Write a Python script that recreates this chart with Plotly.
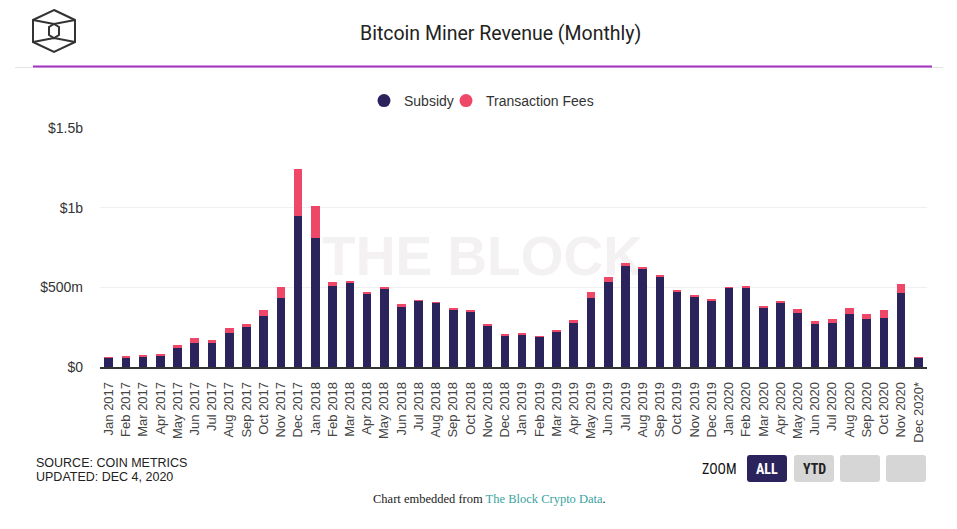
import plotly.graph_objects as go

# ---------------- data (values in millions of USD) ----------------
months = [
    "Jan 2017", "Feb 2017", "Mar 2017", "Apr 2017", "May 2017", "Jun 2017",
    "Jul 2017", "Aug 2017", "Sep 2017", "Oct 2017", "Nov 2017", "Dec 2017",
    "Jan 2018", "Feb 2018", "Mar 2018", "Apr 2018", "May 2018", "Jun 2018",
    "Jul 2018", "Aug 2018", "Sep 2018", "Oct 2018", "Nov 2018", "Dec 2018",
    "Jan 2019", "Feb 2019", "Mar 2019", "Apr 2019", "May 2019", "Jun 2019",
    "Jul 2019", "Aug 2019", "Sep 2019", "Oct 2019", "Nov 2019", "Dec 2019",
    "Jan 2020", "Feb 2020", "Mar 2020", "Apr 2020", "May 2020", "Jun 2020",
    "Jul 2020", "Aug 2020", "Sep 2020", "Oct 2020", "Nov 2020", "Dec 2020*",
]
subsidy_m = [
    58, 57, 67, 73, 121, 150, 150, 215, 250, 319, 432, 947,
    808, 509, 528, 459, 495, 382, 418, 403, 361, 346, 259, 198,
    205, 192, 221, 278, 432, 534, 634, 620, 566, 472, 440, 420,
    497, 497, 371, 405, 338, 267, 276, 330, 299, 309, 465, 58,
]
fees_m = [
    2, 10, 8, 8, 15, 34, 19, 31, 19, 38, 73, 293,
    204, 27, 8, 6, 8, 11, 2, 2, 8, 11, 10, 9,
    8, 2, 11, 18, 36, 34, 19, 10, 10, 8, 9, 2,
    2, 6, 9, 8, 25, 19, 27, 39, 33, 48, 57, 1,
]
y_tick_vals_m = [0, 500, 1000, 1500]
y_tick_text = ["$0", "$500m", "$1b", "$1.5b"]

title_text = "Bitcoin Miner Revenue (Monthly)"
source_lines = ["SOURCE: COIN METRICS", "UPDATED: DEC 4, 2020"]

# ---------------- styling ----------------
W, H = 957, 529
L, R, T, B = 100, 30, 128, 162
NAVY = "#2a235c"
PINK = "#ef4767"
TXT = "#333333"


def X(px):
    return (px - L) / (W - L - R)


def Y(py):
    return (H - B - py) / (H - T - B)


def pts_path(points, close=True):
    s = "M " + " L ".join(f"{X(a):.5f},{Y(b):.5f}" for a, b in points)
    return s + (" Z" if close else "")


def rounded_rect(x0, y0, x1, y1, r):
    p = [
        f"M {X(x0 + r):.5f},{Y(y0):.5f}",
        f"L {X(x1 - r):.5f},{Y(y0):.5f}",
        f"Q {X(x1):.5f},{Y(y0):.5f} {X(x1):.5f},{Y(y0 + r):.5f}",
        f"L {X(x1):.5f},{Y(y1 - r):.5f}",
        f"Q {X(x1):.5f},{Y(y1):.5f} {X(x1 - r):.5f},{Y(y1):.5f}",
        f"L {X(x0 + r):.5f},{Y(y1):.5f}",
        f"Q {X(x0):.5f},{Y(y1):.5f} {X(x0):.5f},{Y(y1 - r):.5f}",
        f"L {X(x0):.5f},{Y(y0 + r):.5f}",
        f"Q {X(x0):.5f},{Y(y0):.5f} {X(x0 + r):.5f},{Y(y0):.5f} Z",
    ]
    return " ".join(p)


fig = go.Figure()
fig.add_trace(go.Bar(x=months, y=[v * 1e6 for v in subsidy_m], name="Subsidy",
                     marker=dict(color=NAVY, line=dict(width=0)), showlegend=False))
fig.add_trace(go.Bar(x=months, y=[v * 1e6 for v in fees_m], name="Transaction Fees",
                     marker=dict(color=PINK, line=dict(width=0)), showlegend=False))
# legend entries with round markers (two legends for exact spacing)
fig.add_trace(go.Scatter(x=[None], y=[None], mode="markers", name="Subsidy", legend="legend",
                         marker=dict(color=NAVY, size=13, symbol="circle")))
fig.add_trace(go.Scatter(x=[None], y=[None], mode="markers", name="Transaction Fees", legend="legend2",
                         marker=dict(color=PINK, size=13, symbol="circle")))

shapes = []
# watermark (below bars)
shapes.append(dict(type="rect", xref="paper", yref="paper", layer="below",
                   x0=X(300), x1=X(665), y0=Y(280), y1=Y(222),
                   line=dict(width=0), fillcolor="rgba(0,0,0,0)",
                   label=dict(text="THE BLOCK", textposition="middle center",
                              font=dict(family="Liberation Sans, Arial, sans-serif",
                                        size=55, color="#f3f1f2", weight="bold"))))
# header lines
shapes.append(dict(type="line", xref="paper", yref="paper",
                   x0=X(15), x1=X(943), y0=Y(67.5), y1=Y(67.5),
                   line=dict(color="#e3e3e3", width=1)))
shapes.append(dict(type="line", xref="paper", yref="paper",
                   x0=X(33), x1=X(932), y0=Y(66.5), y1=Y(66.5),
                   line=dict(color="#a433c4", width=2)))
# logo
cx, cy = 54, 31
outer = [(cx, 10), (cx + 21, 20), (cx + 21, 42), (cx, 52), (cx - 21, 42), (cx - 21, 20)]
inner = [(cx, 24), (cx + 5, 27), (cx + 5, 35), (cx, 38), (cx - 5, 35), (cx - 5, 27)]
logo_line = dict(color="#333333", width=2)
shapes.append(dict(type="path", xref="paper", yref="paper", path=pts_path(outer), line=logo_line))
shapes.append(dict(type="path", xref="paper", yref="paper", path=pts_path(inner), line=logo_line))
shapes.append(dict(type="path", xref="paper", yref="paper",
                   path=pts_path([(cx - 21, 20), (cx, 24), (cx + 21, 20)], close=False), line=logo_line))
shapes.append(dict(type="path", xref="paper", yref="paper",
                   path=pts_path([(cx - 21, 42), (cx, 38), (cx + 21, 42)], close=False), line=logo_line))
# zoom buttons
btns = [(747, 787, NAVY), (794, 834, "#d6d6d6"), (840, 880, "#d6d6d6"), (886, 926, "#d6d6d6")]
for x0, x1, c in btns:
    shapes.append(dict(type="path", xref="paper", yref="paper",
                       path=rounded_rect(x0, 455, x1, 482, 3),
                       fillcolor=c, line=dict(width=0)))

narrow = "Liberation Sans Narrow, Roboto Condensed, Arial Narrow, Liberation Sans, sans-serif"
annotations = [
    dict(text=title_text, x=X(500.5), y=Y(33), xref="paper", yref="paper", showarrow=False,
         xanchor="center", yanchor="middle",
         font=dict(family="Roboto, sans-serif", size=19.5, color="#222222")),
    dict(text=source_lines[0], x=X(34), y=Y(462.5), xref="paper", yref="paper", showarrow=False,
         xanchor="left", yanchor="middle",
         font=dict(family="Liberation Sans, Arial, sans-serif", size=12.5, color="#222222")),
    dict(text=source_lines[1], x=X(34), y=Y(477), xref="paper", yref="paper", showarrow=False,
         xanchor="left", yanchor="middle",
         font=dict(family="Liberation Sans, Arial, sans-serif", size=12.5, color="#222222")),
    dict(text="ZOOM", x=X(719), y=Y(469), xref="paper", yref="paper", showarrow=False,
         xanchor="center", yanchor="middle", font=dict(family=narrow, size=14, color="#111111")),
    dict(text="<b>ALL</b>", x=X(767), y=Y(469), xref="paper", yref="paper", showarrow=False,
         xanchor="center", yanchor="middle", font=dict(family=narrow, size=14, color="#ffffff")),
    dict(text="<b>YTD</b>", x=X(814), y=Y(469), xref="paper", yref="paper", showarrow=False,
         xanchor="center", yanchor="middle", font=dict(family=narrow, size=14, color="#222222")),
    dict(text="Chart embedded from <span style='color:#3aa3a0'>The Block Crypto Data</span>.",
         x=X(489.5), y=Y(499), xref="paper", yref="paper", showarrow=False,
         xanchor="center", yanchor="middle",
         font=dict(family="Liberation Serif, Times New Roman, serif", size=12.5, color="#222222")),
]

legend_common = dict(orientation="h", yanchor="middle", xanchor="left",
                     font=dict(size=14, color=TXT), itemwidth=30,
                     bgcolor="rgba(0,0,0,0)")

fig.update_layout(
    width=W, height=H,
    margin=dict(l=L, r=R, t=T, b=B, pad=0),
    paper_bgcolor="#ffffff", plot_bgcolor="#ffffff",
    barmode="stack", bargap=0.5,
    font=dict(family="Liberation Sans, Arial, sans-serif", color=TXT),
    showlegend=True,
    legend=dict(x=X(364), y=Y(101), **legend_common),
    legend2=dict(x=X(446), y=Y(101), **legend_common),
    shapes=shapes,
    annotations=annotations,
    xaxis=dict(type="category", tickangle=-90, showgrid=False, zeroline=False,
               showline=True, linecolor="#333333", linewidth=1.5,
               ticks="", ticklabelstandoff=8,
               tickfont=dict(family="Liberation Sans, Arial, sans-serif", size=13, color="#444444")),
    yaxis=dict(range=[0, 1.5e9], tickvals=[v * 1e6 for v in y_tick_vals_m], ticktext=y_tick_text,
               showgrid=True, gridcolor="#f0f0f0", gridwidth=1, zeroline=False, showline=False,
               ticks="", ticklabelstandoff=16,
               tickfont=dict(family="Liberation Sans, Arial, sans-serif", size=14, color=TXT)),
    hovermode=False,
)

fig.write_html("out.html")
